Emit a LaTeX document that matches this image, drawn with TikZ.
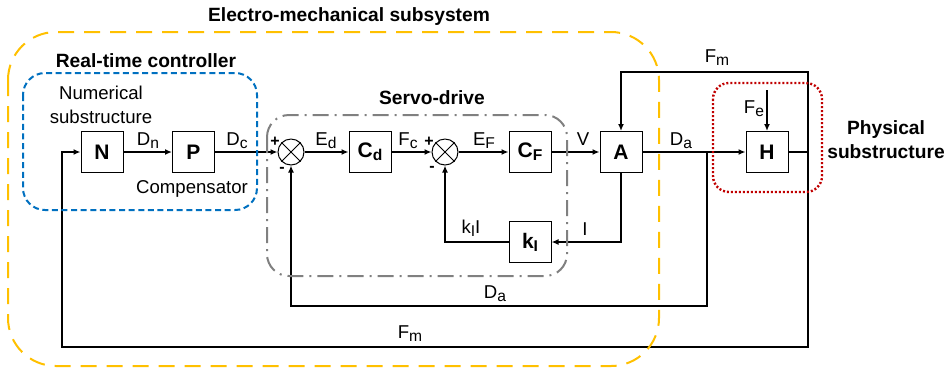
\documentclass[tikz,border=0pt]{standalone}
\usepackage{fontspec}
\setmainfont{Liberation Sans}
\usetikzlibrary{arrows.meta,positioning}
\definecolor{emorange}{HTML}{FFC000}
\definecolor{rtblue}{HTML}{0070C0}
\definecolor{phred}{HTML}{C00000}
\definecolor{sdgrey}{HTML}{808080}
\newcommand{\lowsub}[1]{\raisebox{-1.6pt}{\fontsize{7.8}{9}\selectfont #1}}

\begin{document}
\begin{tikzpicture}[x=0.5pt, y=-0.5pt,
  every node/.style={font=\fontsize{9.3}{12}\selectfont, inner sep=0pt},
  block/.style={draw, line width=0.5pt, minimum width=21pt, minimum height=20.5pt, font=\fontsize{10.5}{12}\selectfont\bfseries},
  sum/.style={draw, circle, line width=0.5pt, minimum size=13pt},
  title/.style={font=\fontsize{9.6}{12}\selectfont\bfseries},
  sign/.style={font=\fontsize{8}{9}\selectfont\bfseries},
  sig/.style={line width=0.75pt, -{Latex[length=3.5pt,width=3pt]}},
  wire/.style={line width=0.75pt}]
  \useasboundingbox (0,0) rectangle (946,372);

  \node[block] (N) at (102,152) {N};
  \node[block] (P) at (193.5,152) {P};
  \node[sum] (S1) at (291,152) {};
  \node[block] (Cd) at (370,152) {C\lowsub{\bfseries d}};
  \node[sum] (S2) at (445,152) {};
  \node[block] (CF) at (530,152) {C\lowsub{\bfseries F}};
  \node[block] (A) at (621,152) {A};
  \node[block] (H) at (767,152) {H};
  \node[block] (kI) at (530,242) {k\lowsub{\bfseries I}};
  \foreach \s in {S1,S2} {
    \draw[line width=0.5pt] (\s.45) -- (\s.225) (\s.135) -- (\s.315);
  }

  \coordinate (Da) at (707,152);
  \coordinate (Fmr) at (808,152);
  \coordinate (Fmtop) at (808,72);
  \coordinate (Fmbot) at (808,347);
  \coordinate (Fe) at (767,90);

  \draw[sig] (N) -- (P);
  \draw[sig] (P) -- (S1);
  \draw[sig] (S1) -- (Cd);
  \draw[sig] (Cd) -- (S2);
  \draw[sig] (S2) -- (CF);
  \draw[sig] (CF) -- (A);
  \draw[sig] (A) -- (H);
  \draw[wire] (H) -- (Fmr);
  \draw[sig] (Fmr) -- (Fmtop) -| (A);
  \draw[sig] (Fmr) -- (Fmbot) -- ++(-746,0) |- (N);
  \draw[sig] (Da) -- ++(0,154) -| (S1);
  \draw[sig] (A) |- (kI);
  \draw[sig] (kI) -| (S2);
  \draw[sig] (Fe) -- (H);

  \node[anchor=base] (lDn) at (148,145) {D\lowsub{n}};
  \node[anchor=base] (lDc) at (237,145) {D\lowsub{c}};
  \node[anchor=base] (lEd) at (326,145) {E\lowsub{d}};
  \node[anchor=base] (lFc) at (408,145) {F\lowsub{c}};
  \node[anchor=base] (lEF) at (484,145) {E\lowsub{F}};
  \node[anchor=base] (lV) at (583,145) {V};
  \node[anchor=base] (lDa) at (681,145) {D\lowsub{a}};
  \node[anchor=base] (lFm) at (717,62) {F\lowsub{m}};
  \node[anchor=base] (lFe) at (754,113) {F\lowsub{e}};
  \node[anchor=base] (lI) at (585,235) {I};
  \node[anchor=base] (lkI) at (471,233) {k\lowsub{I}I};
  \node[anchor=base] (lDa2) at (495,298) {D\lowsub{a}};
  \node[anchor=base] (lFm2) at (410,338) {F\lowsub{m}};
  \node[anchor=base] (lcomp) at (192,193) {Compensator};
  \node[align=center] (lnum) at (101,105) {Numerical\\substructure};

  \node[sign] (p1) at (275,142) {+};
  \node[sign] (m1) at (282,170) {-};
  \node[sign] (p2) at (429,142) {+};
  \node[sign] (m2) at (432,169) {-};

  \draw[emorange, line width=1pt, dash pattern=on 8pt off 5pt, rounded corners=24pt] (8,32) rectangle (659,366);
  \draw[rtblue, line width=1pt, dash pattern=on 3pt off 1.8pt, rounded corners=11pt] (23,73) rectangle (257,210);
  \draw[sdgrey, line width=1pt, dash pattern=on 8pt off 3pt on 1pt off 3pt, rounded corners=11pt] (267,115) rectangle (567,276);
  \draw[phred, line width=1.2pt, dash pattern=on 1pt off 1pt, rounded corners=8pt] (713,83) rectangle (822,192);

  \node[title, anchor=base] (tem) at (349,21) {Electro-mechanical subsystem};
  \node[title, anchor=base] (trt) at (146,67) {Real-time controller};
  \node[title, anchor=base] (tsd) at (432,104) {Servo-drive};
  \node[title, align=center] (tph) at (886,140) {Physical\\substructure};
\end{tikzpicture}
\end{document}
